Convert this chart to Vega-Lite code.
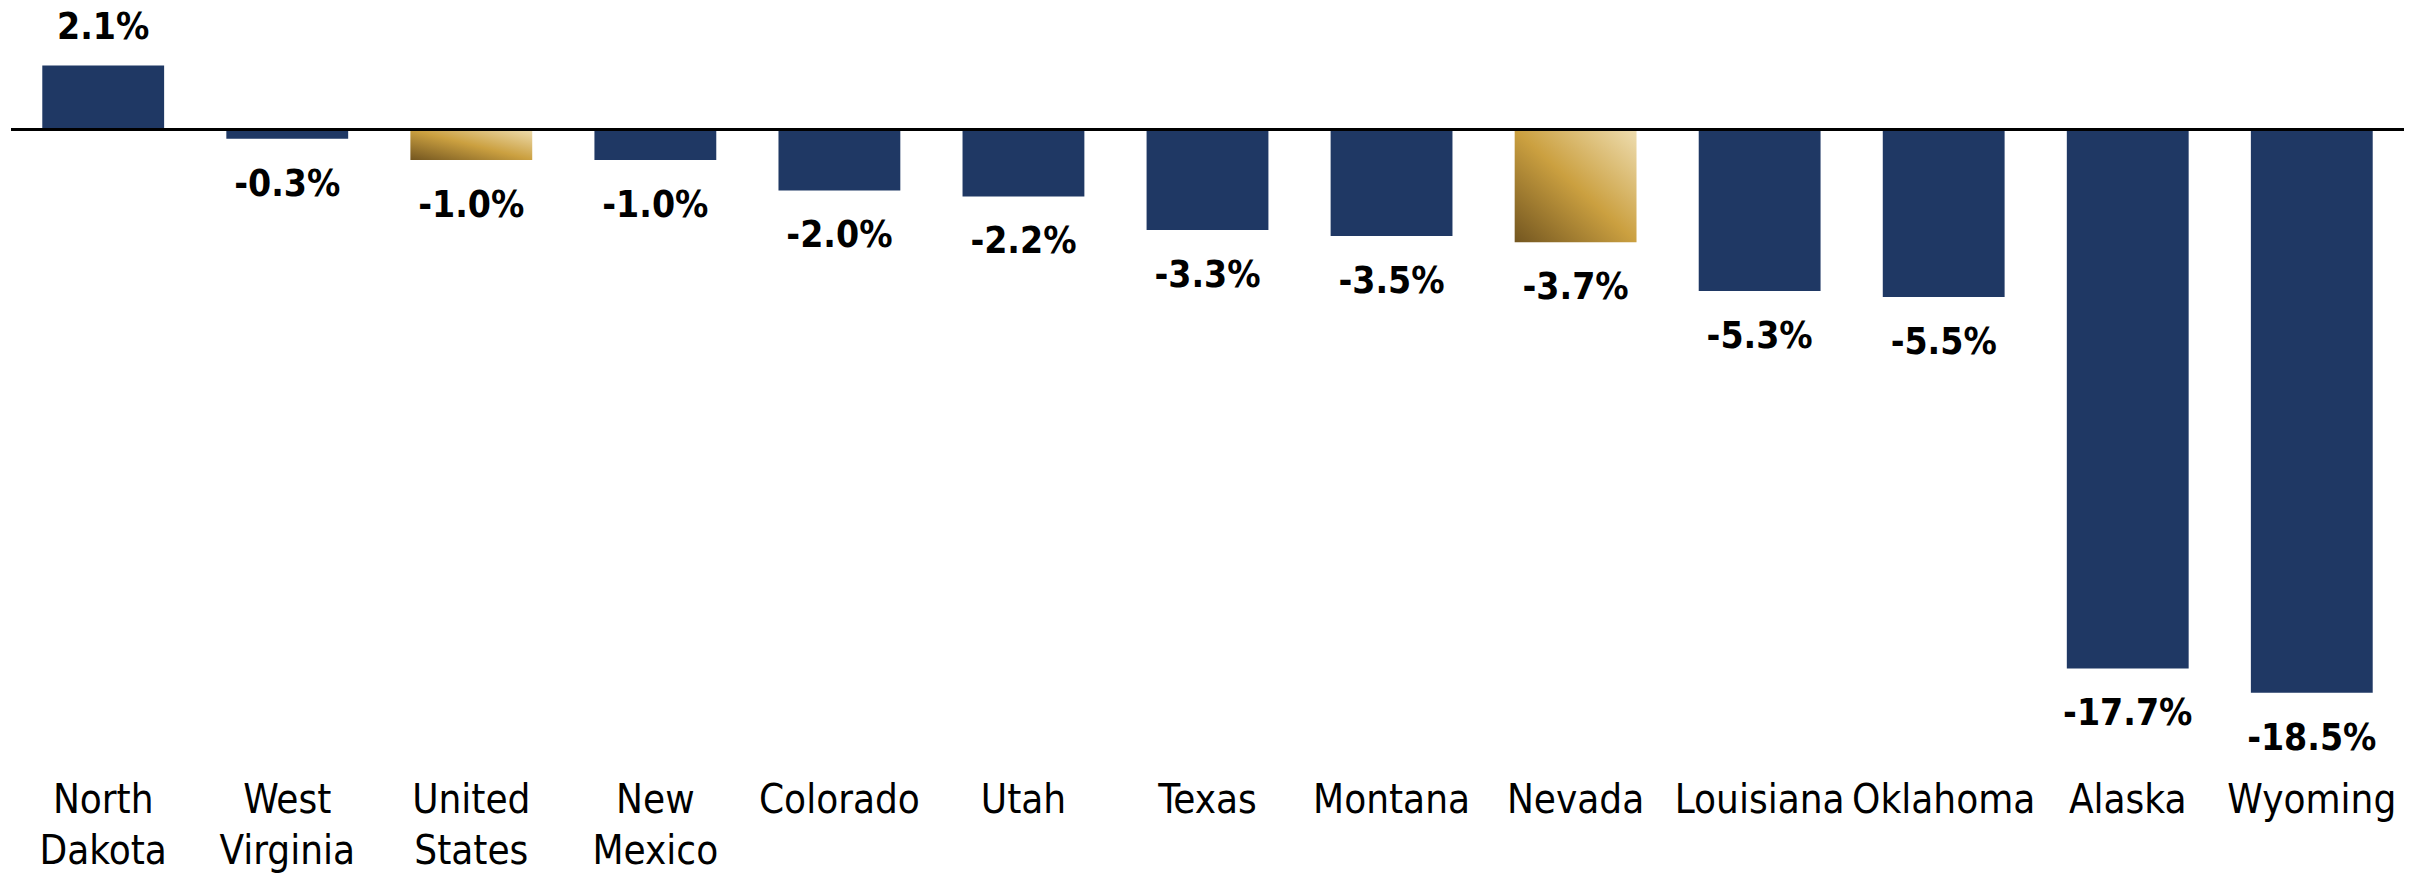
{
  "$schema": "https://vega.github.io/schema/vega-lite/v6.json",
  "width": 2393,
  "height": 770,
  "autosize": {"type": "none"},
  "padding": {"left": 11, "top": 0, "right": 0, "bottom": 107},
  "background": "white",
  "config": {
    "view": {"stroke": null},
    "locale": {"number": {"decimal": ".", "thousands": ",", "grouping": [3], "currency": ["$", ""], "minus": "-"}}
  },
  "data": {
    "values": [
      {"state": "North Dakota", "value": 0.021},
      {"state": "West Virginia", "value": -0.003},
      {"state": "United States", "value": -0.010},
      {"state": "New Mexico", "value": -0.010},
      {"state": "Colorado", "value": -0.020},
      {"state": "Utah", "value": -0.022},
      {"state": "Texas", "value": -0.033},
      {"state": "Montana", "value": -0.035},
      {"state": "Nevada", "value": -0.037},
      {"state": "Louisiana", "value": -0.053},
      {"state": "Oklahoma", "value": -0.055},
      {"state": "Alaska", "value": -0.177},
      {"state": "Wyoming", "value": -0.185}
    ]
  },
  "layer": [
    {
      "mark": {"type": "bar"},
      "encoding": {
        "x": {"field": "state", "type": "nominal", "sort": null,
          "scale": {"paddingInner": 0.338, "paddingOuter": 0.17},
          "axis": {"title": null, "domain": false, "ticks": false, "tickSize": 0, "labelAngle": 0,
            "labelFont": "DejaVu Sans Condensed, Liberation Sans", "labelFontSize": 40, "labelColor": "black",
            "labelPadding": 10, "labelBaseline": "top", "labelLineHeight": 51,
            "labelExpr": "split(datum.label, ' ')", "labelLimit": 0, "labelOverlap": false}},
        "y": {"field": "value", "type": "quantitative",
          "scale": {"domain": [-0.21034, 0.04253], "nice": false, "zero": false}, "axis": null},
        "color": {
          "condition": {
            "test": "datum.state === 'United States' || datum.state === 'Nevada'",
            "value": {"gradient": "linear", "x1": 0, "y1": 1, "x2": 1, "y2": 0,
              "stops": [
                {"offset": 0, "color": "#735620"},
                {"offset": 0.5, "color": "#CBA040"},
                {"offset": 1, "color": "#EEDDB0"}
              ]}
          },
          "value": "#1F3864"
        }
      }
    },
    {
      "data": {"values": [{"base": 0}]},
      "mark": {"type": "rule", "color": "black", "strokeWidth": 3},
      "encoding": {
        "y": {"field": "base", "type": "quantitative",
          "scale": {"domain": [-0.21034, 0.04253], "nice": false, "zero": false}, "axis": null}
      }
    },
    {
      "transform": [{"filter": "datum.value >= 0"}],
      "mark": {"type": "text", "font": "DejaVu Sans Condensed, Liberation Sans", "fontWeight": "bold", "fontSize": 37,
        "baseline": "alphabetic", "dy": -27, "color": "black"},
      "encoding": {
        "x": {"field": "state", "type": "nominal", "sort": null},
        "y": {"field": "value", "type": "quantitative",
          "scale": {"domain": [-0.21034, 0.04253], "nice": false, "zero": false}, "axis": null},
        "text": {"field": "value", "type": "quantitative", "format": ".1%"}
      }
    },
    {
      "transform": [{"filter": "datum.value < 0"}],
      "mark": {"type": "text", "font": "DejaVu Sans Condensed, Liberation Sans", "fontWeight": "bold", "fontSize": 37,
        "baseline": "alphabetic", "dy": 57, "color": "black"},
      "encoding": {
        "x": {"field": "state", "type": "nominal", "sort": null},
        "y": {"field": "value", "type": "quantitative",
          "scale": {"domain": [-0.21034, 0.04253], "nice": false, "zero": false}, "axis": null},
        "text": {"field": "value", "type": "quantitative", "format": ".1%"}
      }
    }
  ]
}
